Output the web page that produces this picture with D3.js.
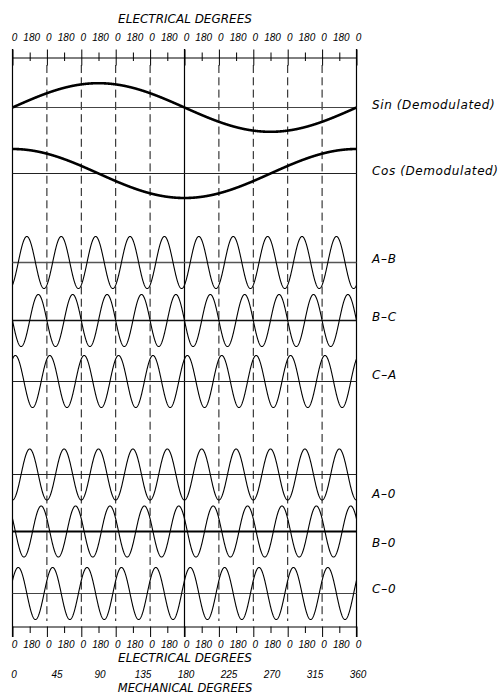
<!DOCTYPE html>
<html>
<head>
<meta charset="utf-8">
<script src="https://cdn.jsdelivr.net/npm/d3@7"></script>
<style>
  html, body { margin: 0; padding: 0; background: #fff; }
  svg { display: block; }
  text { font-family: "DejaVu Sans", sans-serif; font-style: italic; fill: #000; }
</style>
</head>
<body>
<svg id="chart" width="501" height="693"></svg>
<script>
// ---------------- DATA ----------------
const categories = ["Sin (Demodulated)", "Cos (Demodulated)", "A–B", "B–C", "C–A", "A–0", "B–0", "C–0"];
// cycles of each trace over one mechanical revolution
const cyclesPerRev = [1, 1, 10, 10, 10, 10, 10, 10];
// phase (degrees of the trace's own cycle) at which the trace reaches its positive peak
const peakPhase = [90, 0, 150, 270, 30, 180, 300, 60];
// normalized amplitude of each trace
const amplitude = [1, 1, 1, 1, 1, 1, 1, 1];
// electrical-degree tick labels (every 180 electrical degrees)
const elecTickLabels = ["0","180","0","180","0","180","0","180","0","180","0","180","0","180","0","180","0","180","0","180","0"];
// mechanical-degree tick values
const mechTicks = [0, 45, 90, 135, 180, 225, 270, 315, 360];
const polePairs = 10;

// ---------------- LAYOUT ----------------
const left = 12.5, right = 356.5;
const topAxisY = 57.5, bottomAxisY = 626.5;
const frameTop = 49, frameBottom = 637;
const dashTop = 65, dashBottom = 621;
const rowBase = [107.5, 173.5, 262.5, 320.5, 381.5, 474.5, 531.5, 593.5];
const rowAmp  = [24.3, 24.5, 26, 26, 26, 25.5, 25.5, 26];
const baseWidth = [1, 1, 1.5, 1.5, 1, 1, 2.2, 1];
const baseColor = ["#444", "#222", "#555", "#111", "#222", "#222", "#000", "#444"];
const traceWidth = [2.6, 2.6, 1.1, 1.1, 1.1, 1.1, 1.1, 1.1];
const labelY = [109, 174.5, 262.5, 320.5, 379, 498, 546.5, 592.5];

const svg = d3.select("#chart");
const x = d3.scaleLinear().domain([0, 360]).range([left, right]);

// electrical tick positions (mechanical degrees)
const elecTickVals = d3.range(0, 360.001, 180 / polePairs);
const isMajor = (i) => i % 2 === 0;

// ---------- vertical dashed lines at each electrical zero ----------
const zeroVals = d3.range(0, 361, 360 / polePairs);
svg.append("g").selectAll("line")
  .data(zeroVals.filter(v => v !== 0 && v !== 180 && v !== 360))
  .join("line")
  .attr("x1", d => x(d)).attr("x2", d => x(d))
  .attr("y1", dashTop).attr("y2", dashBottom)
  .attr("stroke", "#111").attr("stroke-width", 1)
  .attr("stroke-dasharray", "8,4.3");

// solid frame lines: left, center (180 mech), right
svg.append("g").selectAll("line")
  .data([0, 180, 360])
  .join("line")
  .attr("x1", d => x(d)).attr("x2", d => x(d))
  .attr("y1", frameTop).attr("y2", frameBottom)
  .attr("stroke", "#000").attr("stroke-width", 1.2);

// ---------- top axis ----------
const topAxis = d3.axisTop(x).tickValues(elecTickVals).tickSizeOuter(0).tickSize(0)
  .tickFormat((d, i) => elecTickLabels[i]);
const gTop = svg.append("g").attr("transform", `translate(0,${topAxisY})`).call(topAxis);
gTop.select(".domain").attr("stroke", "#000").attr("stroke-width", 1);
gTop.selectAll(".tick line")
  .attr("y1", (d, i) => isMajor(i) ? -8 : -5)
  .attr("y2", (d, i) => isMajor(i) ? 8 : 3.5)
  .attr("stroke", "#000");
gTop.selectAll(".tick text")
  .attr("y", -17).attr("dy", 0).attr("x", 1.5)
  .style("font-family", "'Liberation Sans', Arial, sans-serif")
  .style("font-style", "italic")
  .style("font-size", "10px");
gTop.attr("font-family", null).attr("font-size", null);

svg.append("text").attr("x", (left + right) / 2 + 0.5).attr("y", 22.5)
  .attr("text-anchor", "middle").style("font-size", "12px")
  .text("ELECTRICAL  DEGREES");

// ---------- bottom axis ----------
const botAxis = d3.axisBottom(x).tickValues(elecTickVals).tickSizeOuter(0).tickSize(0)
  .tickFormat((d, i) => elecTickLabels[i]);
const gBot = svg.append("g").attr("transform", `translate(0,${bottomAxisY})`).call(botAxis);
gBot.select(".domain").attr("stroke", "#000").attr("stroke-width", 1);
gBot.selectAll(".tick line")
  .attr("y1", 0)
  .attr("y2", (d, i) => isMajor(i) ? 10.5 : 6.5)
  .attr("stroke", "#000");
gBot.selectAll(".tick text")
  .attr("y", 21.5).attr("dy", 0).attr("x", 1.5)
  .style("font-family", "'Liberation Sans', Arial, sans-serif")
  .style("font-style", "italic")
  .style("font-size", "10px");
gBot.attr("font-family", null).attr("font-size", null);

svg.append("text").attr("x", (left + right) / 2 + 0.5).attr("y", 662)
  .attr("text-anchor", "middle").style("font-size", "12px")
  .text("ELECTRICAL  DEGREES");

// mechanical axis (labels only)
const mechAxis = d3.axisBottom(x).tickValues(mechTicks).tickSize(0).tickSizeOuter(0)
  .tickFormat(d => String(d));
const gMech = svg.append("g").attr("transform", `translate(0,668)`).call(mechAxis);
gMech.select(".domain").remove();
gMech.selectAll(".tick line").remove();
gMech.selectAll(".tick text")
  .attr("y", 10).attr("dy", 0).attr("x", 1)
  .style("font-family", "'Liberation Sans', Arial, sans-serif")
  .style("font-style", "italic")
  .style("font-size", "10px");
gMech.attr("font-family", null).attr("font-size", null);

svg.append("text").attr("x", (left + right) / 2 + 0.5).attr("y", 691.5)
  .attr("text-anchor", "middle").style("font-size", "11.5px")
  .text("MECHANICAL  DEGREES");

// ---------- traces ----------
const samples = d3.range(0, 360.0001, 0.25);
categories.forEach((name, i) => {
  const y = d3.scaleLinear().domain([-1, 1]).range([rowBase[i] + rowAmp[i], rowBase[i] - rowAmp[i]]);
  // baseline
  svg.append("line")
    .attr("x1", x(0)).attr("x2", x(360))
    .attr("y1", y(0)).attr("y2", y(0))
    .attr("stroke", baseColor[i]).attr("stroke-width", baseWidth[i]);
  // waveform
  const line = d3.line()
    .x(d => x(d))
    .y(d => y(amplitude[i] * Math.cos((cyclesPerRev[i] * d - peakPhase[i]) * Math.PI / 180)));
  svg.append("path").datum(samples)
    .attr("d", line)
    .attr("fill", "none")
    .attr("stroke", "#000")
    .attr("stroke-width", traceWidth[i])
    .attr("stroke-linejoin", "round");
  // label
  svg.append("text")
    .attr("x", 372).attr("y", labelY[i])
    .style("font-size", "12px")
    .style("letter-spacing", i < 2 ? "0.6px" : "0.8px")
    .text(i < 2 ? name.replace(" (", "  (") : name);
});
</script>
</body>
</html>
